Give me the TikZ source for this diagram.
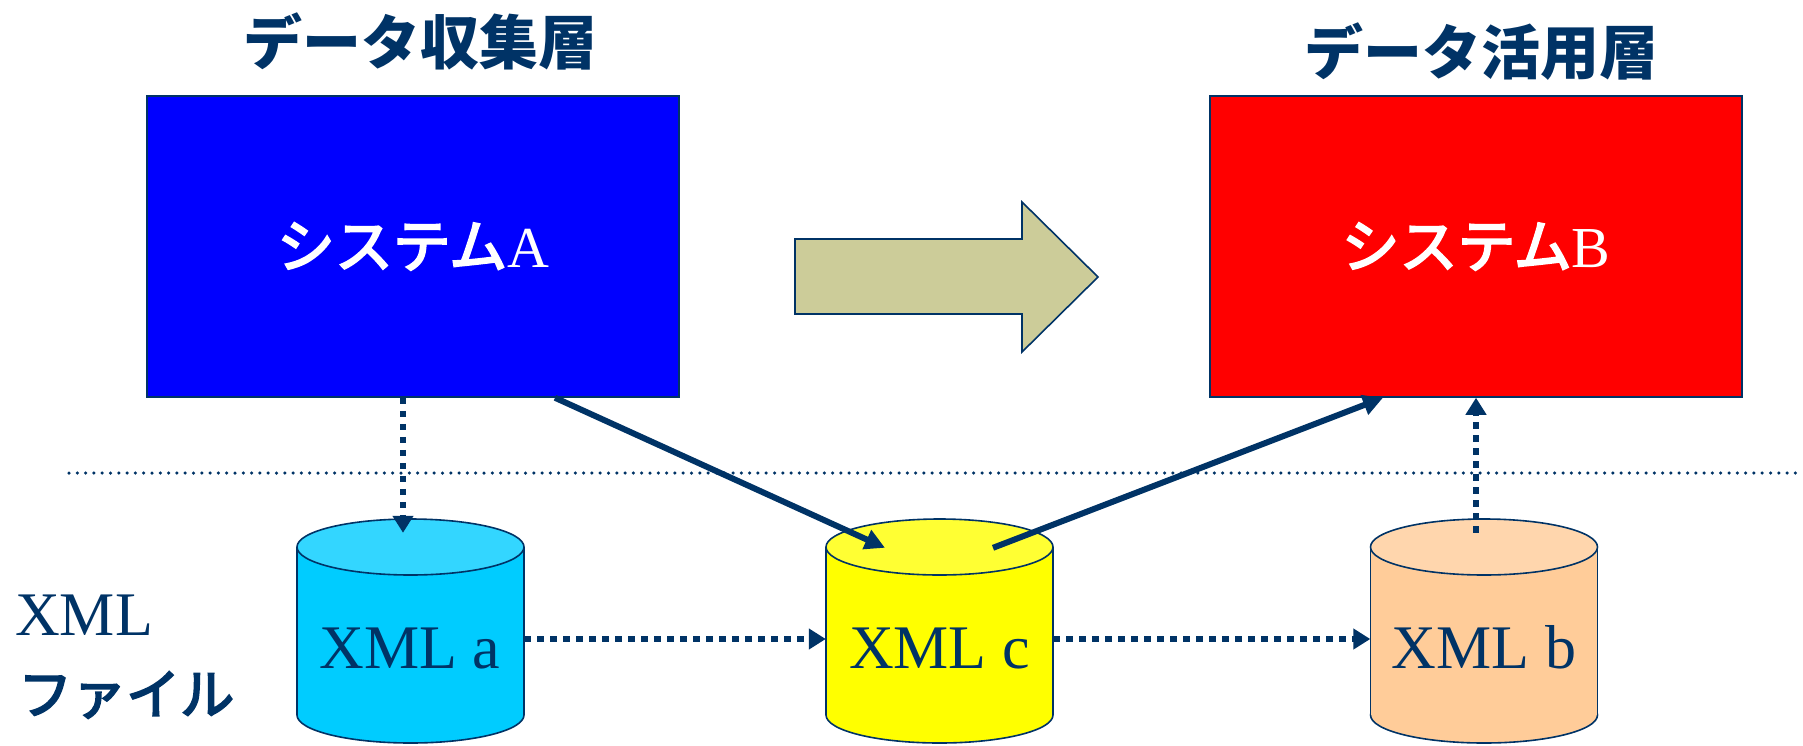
\documentclass[tikz,border=0pt]{standalone}
\usepackage{fontspec}
\setmainfont{Liberation Serif}
\newfontfamily\jpfont{Noto Sans CJK JP}
\newcommand\jpthick[1]{{\jpfont\special{pdf:literal direct 2 Tr 2 w}#1\special{pdf:literal direct 0 Tr}}}
\usetikzlibrary{arrows.meta}
\definecolor{navy}{RGB}{0,51,102}
\definecolor{sysblue}{RGB}{0,0,255}
\definecolor{sysred}{RGB}{255,0,0}
\definecolor{bigarrow}{RGB}{204,204,153}
\definecolor{cyanbody}{RGB}{0,204,255}
\definecolor{cyantop}{RGB}{51,214,255}
\definecolor{yelbody}{RGB}{255,255,0}
\definecolor{yeltop}{RGB}{255,255,51}
\definecolor{orbody}{RGB}{255,204,153}
\definecolor{ortop}{RGB}{255,214,173}
\newcommand\drawxmlcyl[4]{%
  \path[fill=#2, draw=navy, line width=1.6pt] (#1,715) ellipse[x radius=113.5, y radius=28];
  \fill[#2] (#1-113.5,547) rectangle (#1+113.5,715);
  \draw[navy, line width=1.6pt] (#1-113.5,547) -- (#1-113.5,715) (#1+113.5,547) -- (#1+113.5,715);
  \path[fill=#3, draw=navy, line width=1.6pt] (#1,547) ellipse[x radius=113.5, y radius=28];
  \node[inner sep=0pt, minimum width=227pt, minimum height=224pt] (#4) at (#1,631) {};
}
\begin{document}
\begin{tikzpicture}[x=1pt, y=-1pt,
  sysbox/.style={draw=navy, line width=1.5pt, minimum width=532pt, minimum height=301pt, inner sep=0pt, text=white, font=\fontsize{58}{60}\selectfont},
  titletext/.style={text=navy, inner sep=0pt, font=\jpfont\bfseries\fontsize{59}{62}\selectfont},
  xmltext/.style={text=navy, inner sep=0pt, anchor=base, font=\fontsize{62}{64}\selectfont},
  dotarrow/.style={navy, line width=6.5pt, dash pattern=on 6.5pt off 6.5pt, -{Triangle[length=17pt,width=20pt]}},
  solidarrow/.style={navy, line width=6pt, -{Triangle[length=20pt,width=20pt]}},
  sepline/.style={navy, line width=3.5pt, line cap=round, dash pattern=on 0pt off 8.3pt}
]
\useasboundingbox (0,0) rectangle (1803,745);

% titles
\node[titletext] (t1) at (420,41) {データ収集層};
\node[titletext] (t2) at (1481,52) {データ活用層};

% systems
\node[sysbox, fill=sysblue] (A) at (413,246.5) {\jpthick{システム}A};
\node[sysbox, fill=sysred] (B) at (1476,246.5) {\jpthick{システム}B};

% big arrow
\path[fill=bigarrow, draw=navy, line width=1.6pt]
  (795,239) -- (1022,239) -- (1022,202) -- (1098,277) -- (1022,352) -- (1022,314) -- (795,314) -- cycle;

% separator
\draw[sepline] (69,473) -- (1800,473);

% cylinders
\drawxmlcyl{410.5}{cyanbody}{cyantop}{a}
\drawxmlcyl{939.5}{yelbody}{yeltop}{c}
\drawxmlcyl{1484}{orbody}{ortop}{b}

\node[xmltext] (ta) at (410,668) {XML a};
\node[xmltext] (tc) at (939.5,668) {XML c};
\node[xmltext] (tb) at (1484,668) {XML b};

% left label
\node[anchor=base west, inner sep=0pt, text=navy, font=\fontsize{62}{64}\selectfont] (xl) at (15,635) {XML};
\node[anchor=west, inner sep=0pt, text=navy, font=\fontsize{54}{56}\selectfont] (fl) at (18,695) {\jpthick{ファイル}};

% connectors
\draw[dotarrow] ([xshift=-10pt]A.south) -- ([xshift=-7.5pt,yshift=-14pt]a.north);
\draw[dotarrow] ([yshift=-8pt]a.east) -- ([yshift=-8pt]c.west);
\draw[dotarrow] ([yshift=-8pt]c.east) -- ([yshift=-8pt]b.west);
\draw[dotarrow] ([xshift=-8pt,yshift=-14pt]b.north) -- ([xshift=0pt]B.south);
\draw[solidarrow] ([xshift=142pt]A.south) -- ([xshift=-54.5pt,yshift=-29pt]c.north);
\draw[solidarrow] ([xshift=53.5pt,yshift=-29pt]c.north) -- ([xshift=-93pt]B.south);
\end{tikzpicture}
\end{document}
